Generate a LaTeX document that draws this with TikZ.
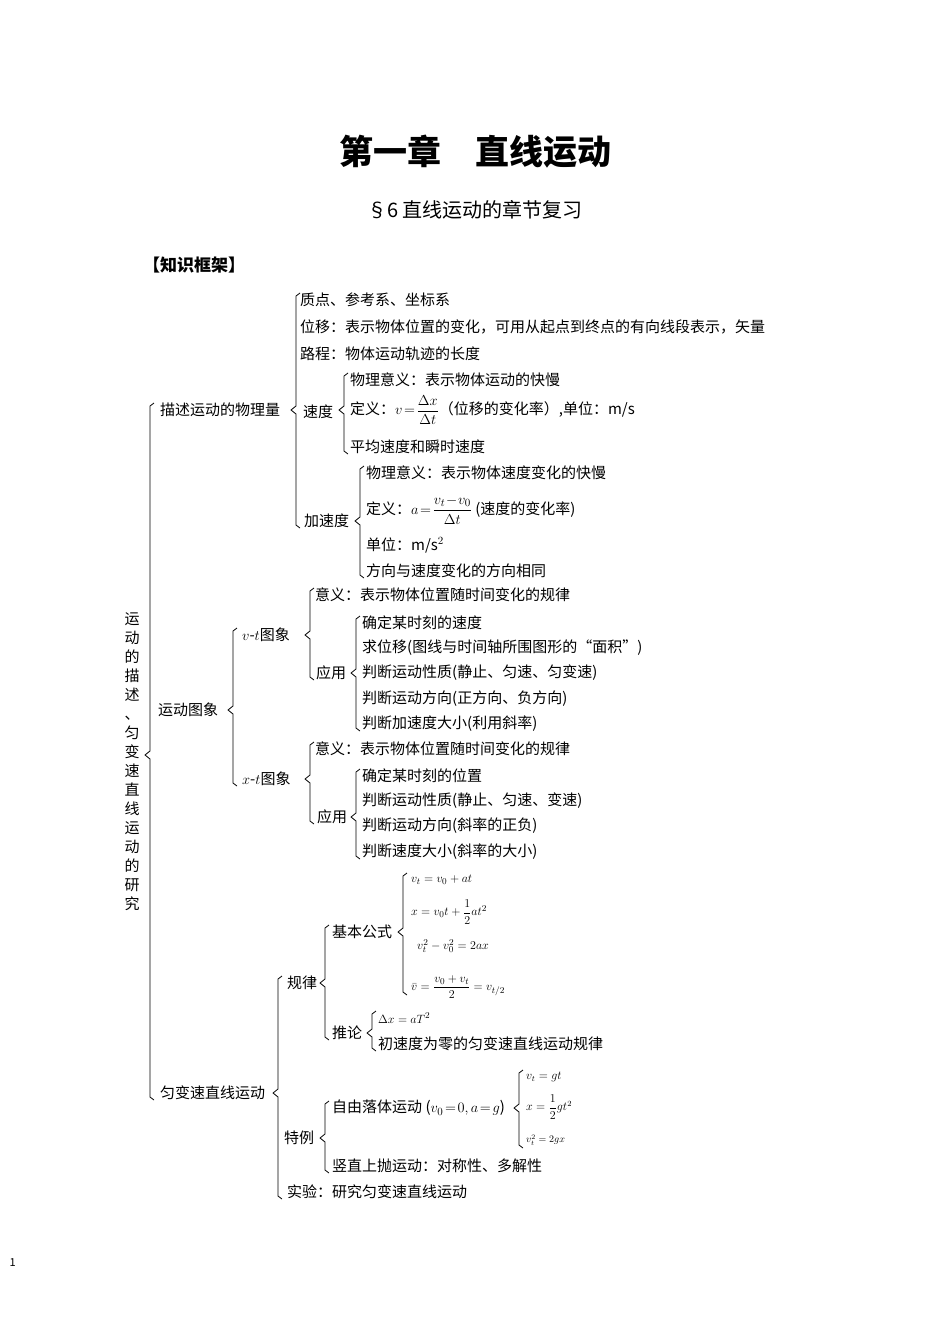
\documentclass[tikz,border=0pt]{standalone}
\usepackage{fontspec}
\setmainfont{Noto Sans CJK SC}
\usepackage{amsmath}
\usetikzlibrary{positioning}
\newcommand\brc[4]{\draw[brline] ({#1+4},{#2-7}) -- (#1,{#2-4}) -- (#1,{#4-4}) -- ({#1-5},#4) -- (#1,{#4+4}) -- (#1,{#3+4}) -- ({#1+4},{#3+7});}
\begin{document}
\begin{tikzpicture}[x=1pt,y=-1pt,
  brline/.style={line width=0.8pt,line join=round},
  t/.style={anchor=west,inner sep=0pt,font=\fontsize{15}{15}\selectfont},
  fm/.style={anchor=west,inner sep=0pt,font=\fontsize{13}{13}\selectfont}]
\useasboundingbox[fill=white] (0,0) rectangle (950,1344);
\node[font=\fontsize{34}{34}\selectfont\bfseries] (title) at (475,152) {第一章\quad 直线运动};
\node[font=\fontsize{20}{20}\selectfont] (sub) at (475,210) {§6 直线运动的章节复习};
\node[t,font=\fontsize{17}{17}\selectfont\bfseries] (kj) at (143,265) {【知识框架】};
\node[anchor=west,font=\fontsize{11}{11}\selectfont] (pg) at (6,1263) {1};
% root
\node[align=center,font=\fontsize{15}{19}\selectfont,inner sep=0pt] (root) at (132,762) {运\\动\\的\\描\\述\\、\\匀\\变\\速\\直\\线\\运\\动\\的\\研\\究};
\brc{150}{410}{1093}{755}
\node[t] (a) at (160,410) {描述运动的物理量};
\node[t] (b) at (158,710) {运动图象};
\node[t] (c) at (160,1093) {匀变速直线运动};
% a
\brc{296}{300}{521}{410}
\node[t] (a1) at (300,300) {质点、参考系、坐标系};
\node[t] (a2) at (300,327) {位移：表示物体位置的变化，可用从起点到终点的有向线段表示，矢量};
\node[t] (a3) at (300,354) {路程：物体运动轨迹的长度};
\node[t] (a4) at (303,412) {速度};
\node[t] (a5) at (304,521) {加速度};
\brc{344}{380}{447}{410}
\node[t] (a41) at (350,380) {物理意义：表示物体运动的快慢};
\node[t] (a42) at (350,410) {定义：$v\!=\!\dfrac{\Delta x}{\Delta t}$（位移的变化率）,单位：m/s};
\node[t] (a43) at (350,447) {平均速度和瞬时速度};
\brc{360}{473}{571}{521}
\node[t] (a51) at (366,473) {物理意义：表示物体速度变化的快慢};
\node[t] (a52) at (366,510) {定义：$a\!=\!\dfrac{v_t\!-\!v_0}{\Delta t}$ (速度的变化率)};
\node[t] (a53) at (366,545) {单位：m/s$^2$};
\node[t] (a54) at (366,571) {方向与速度变化的方向相同};
% b
\brc{233}{635}{779}{710}
\node[t] (b1) at (242,635) {$v$-$t$图象};
\node[t] (b2) at (242,779) {$x$-$t$图象};
\brc{310}{595}{673}{635}
\node[t] (b11) at (315,595) {意义：表示物体位置随时间变化的规律};
\node[t] (b12) at (316,673) {应用};
\brc{356}{623}{724}{673}
\node[t] (b121) at (362,623) {确定某时刻的速度};
\node[t] (b122) at (362,648) {求位移(图线与时间轴所围图形的“面积”)};
\node[t] (b123) at (362,673) {判断运动性质(静止、匀速、匀变速)};
\node[t] (b124) at (362,699) {判断运动方向(正方向、负方向)};
\node[t] (b125) at (362,724) {判断加速度大小(利用斜率)};
\brc{310}{749}{817}{779}
\node[t] (b21) at (315,749) {意义：表示物体位置随时间变化的规律};
\node[t] (b22) at (317,817) {应用};
\brc{356}{776}{852}{817}
\node[t] (b221) at (362,776) {确定某时刻的位置};
\node[t] (b222) at (362,801) {判断运动性质(静止、匀速、变速)};
\node[t] (b223) at (362,826) {判断运动方向(斜率的正负)};
\node[t] (b224) at (362,852) {判断速度大小(斜率的大小)};
% c
\brc{278}{983}{1192}{1093}
\node[t] (c1) at (287,983) {规律};
\node[t] (c2) at (284,1138) {特例};
\node[t] (c3) at (287,1192) {实验：研究匀变速直线运动};
\brc{325}{932}{1033}{983}
\node[t] (c11) at (332,932) {基本公式};
\node[t] (c12) at (332,1033) {推论};
\brc{403}{880}{988}{932}
\node[fm] (f1) at (411,880) {$v_t=v_0+at$};
\node[fm] (f2) at (411,912) {$x=v_0t+\dfrac{1}{2}at^2$};
\node[fm] (f3) at (417,946) {$v_t^2-v_0^2=2ax$};
\node[fm] (f4) at (411,987) {$\bar v=\dfrac{v_0+v_t}{2}=v_{t/2}$};
\brc{372}{1018}{1044}{1033}
\node[fm] (c121) at (378,1018) {$\Delta x=aT^2$};
\node[t] (c122) at (378,1044) {初速度为零的匀变速直线运动规律};
\brc{325}{1108}{1166}{1138}
\node[t] (c21) at (332,1108) {自由落体运动 ($v_0\!=\!0,a\!=\!g$)};
\node[t] (c22) at (332,1166) {竖直上抛运动：对称性、多解性};
\brc{519}{1077}{1141}{1108}
\node[fm,font=\fontsize{12}{12}\selectfont] (g1) at (526,1077) {$v_t=gt$};
\node[fm,font=\fontsize{12}{12}\selectfont] (g2) at (526,1107) {$x=\dfrac{1}{2}gt^2$};
\node[fm,font=\fontsize{10}{10}\selectfont] (g3) at (526,1140) {$v_t^2=2gx$};
\end{tikzpicture}
\end{document}
